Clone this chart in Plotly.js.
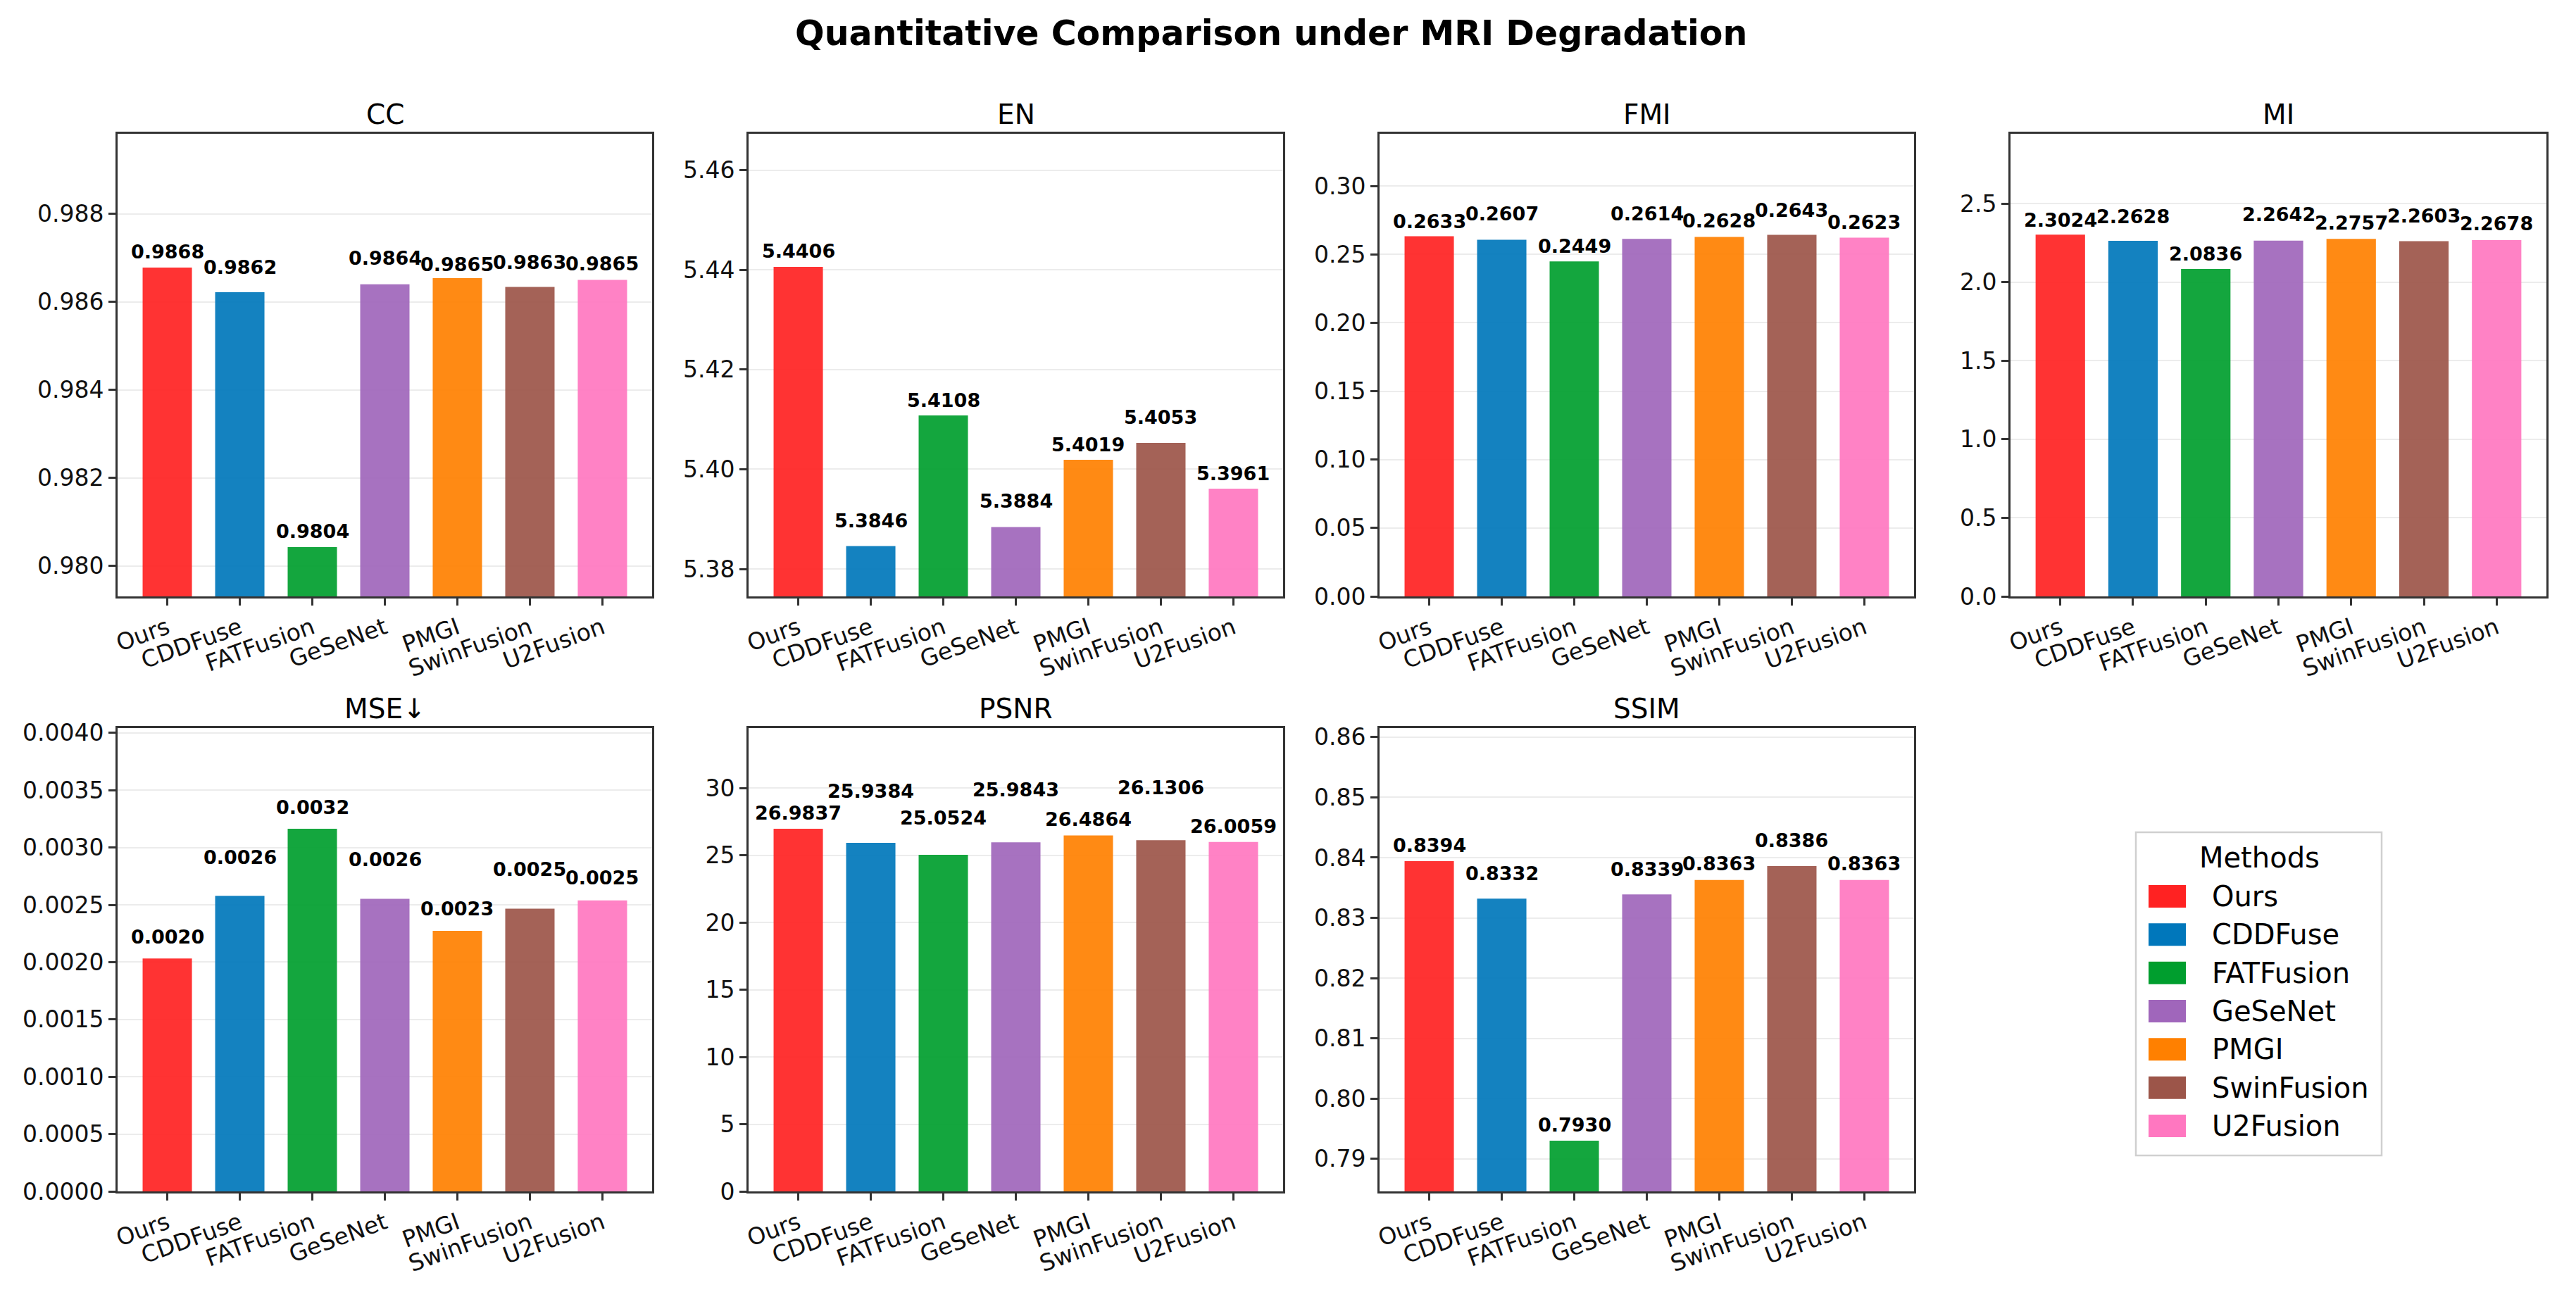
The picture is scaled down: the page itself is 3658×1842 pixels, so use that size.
<!DOCTYPE html>
<html>
<head>
<meta charset="utf-8">
<script src="https://cdn.plot.ly/plotly-3.0.1.min.js"></script>
<style>
  html, body { margin: 0; padding: 0; background: #fff; }
  #chart { width: 3658px; height: 1842px; }
</style>
</head>
<body>
<div id="chart"></div>
<script>
// methods and colours shared by every panel
const methods = ["Ours", "CDDFuse", "FATFusion", "GeSeNet", "PMGI", "SwinFusion", "U2Fusion"];
const colors = ["#FF2222", "#0077BB", "#009E2E", "#A066BB", "#FF8000", "#9C5549", "#FF77C0"];

// metric values
const ccValues   = [0.98678, 0.98622, 0.98043, 0.98640, 0.98654, 0.98634, 0.98650];
const enValues   = [5.4406, 5.3846, 5.4108, 5.3884, 5.4019, 5.4053, 5.3961];
const fmiValues  = [0.2633, 0.2607, 0.2449, 0.2614, 0.2628, 0.2643, 0.2623];
const miValues   = [2.3024, 2.2628, 2.0836, 2.2642, 2.2757, 2.2603, 2.2678];
const mseValues  = [0.002032, 0.002578, 0.003163, 0.002552, 0.002273, 0.002466, 0.002538];
const psnrValues = [26.9837, 25.9384, 25.0524, 25.9843, 26.4864, 26.1306, 26.0059];
const ssimValues = [0.8394, 0.8332, 0.7930, 0.8339, 0.8363, 0.8386, 0.8363];

const FONT = "DejaVu Sans, Liberation Sans, sans-serif";
const W = 3658, H = 1842;

// panel boxes in pixels: columns (left, right), rows (top, bottom)
const cols = [[167, 926], [1063, 1822], [1959, 2718], [2855, 3616]];
const row1 = [190, 847];
const row2 = [1034, 1692];

const panels = [
  { title: "CC",   values: ccValues,   box: [cols[0], row1], range: [0.97931, 0.98982], tick0: 0.980, dtick: 0.002,  fmt: ".3f", lift: [23, 36, 22, 37, 20, 35, 23] },
  { title: "EN",   values: enValues,   box: [cols[1], row1], range: [5.3745, 5.4673],   tick0: 5.38,  dtick: 0.02,   fmt: ".2f", lift: [23, 36, 22, 37, 22, 36, 22] },
  { title: "FMI",  values: fmiValues,  box: [cols[2], row1], range: [0, 0.3382],        tick0: 0,     dtick: 0.05,   fmt: ".2f", lift: [21, 37, 22, 36, 23, 35, 22] },
  { title: "MI",   values: miValues,   box: [cols[3], row1], range: [0, 2.944],         tick0: 0,     dtick: 0.5,    fmt: ".1f", lift: [21, 35, 22, 37, 23, 36, 23] },
  { title: "MSE↓", values: mseValues,  box: [cols[0], row2], range: [0, 0.004042],      tick0: 0,     dtick: 0.0005, fmt: ".4f", lift: [31, 55, 31, 56, 31, 56, 32] },
  { title: "PSNR", values: psnrValues, box: [cols[1], row2], range: [0, 34.48],         tick0: 0,     dtick: 5,      fmt: "d",   lift: [23, 74, 52, 75, 23, 75, 22] },
  { title: "SSIM", values: ssimValues, box: [cols[2], row2], range: [0.7846, 0.8615],   tick0: 0.79,  dtick: 0.01,   fmt: ".2f", lift: [23, 36, 23, 36, 23, 36, 23] }
];

const traces = [];
const annotations = [];
const shapes = [];
const layout = {
  width: W,
  height: H,
  autosize: false,
  margin: { l: 0, r: 0, t: 0, b: 0 },
  paper_bgcolor: "#fff",
  plot_bgcolor: "#fff",
  showlegend: false,
  font: { family: FONT, color: "#000" },
  title: {
    text: "Quantitative Comparison under MRI Degradation",
    font: { family: FONT, size: 49, weight: "bold", color: "#000" },
    x: 0.4935, xanchor: "center",
    y: 1 - 47 / H, yanchor: "middle"
  }
};

panels.forEach((p, k) => {
  const n = k + 1;
  const xa = "x" + n, ya = "y" + n;
  const [xs, ys] = p.box;
  const xDom = [xs[0] / W, xs[1] / W];
  const yDom = [1 - ys[1] / H, 1 - ys[0] / H];

  traces.push({
    type: "bar",
    x: methods,
    y: p.values,
    xaxis: xa,
    yaxis: ya,
    width: 0.68,
    marker: { color: colors, opacity: 0.92, line: { width: 0 } },
    hoverinfo: "x+y"
  });

  layout["xaxis" + n] = {
    domain: xDom,
    anchor: ya,
    type: "category",
    range: [-0.685, 6.685],
    showline: true, mirror: true, linecolor: "#333", linewidth: 3,
    ticks: "outside", ticklen: 10, tickwidth: 2.5, tickcolor: "#333",
    tickangle: -20,
    tickfont: { family: FONT, size: 33, color: "#111" },
    showgrid: false, zeroline: false, fixedrange: true
  };
  layout["yaxis" + n] = {
    domain: yDom,
    anchor: xa,
    range: p.range,
    tick0: p.tick0, dtick: p.dtick, tickformat: p.fmt,
    showline: true, mirror: true, linecolor: "#333", linewidth: 3,
    ticks: "outside", ticklen: 10, tickwidth: 2.5, tickcolor: "#333",
    tickfont: { family: FONT, size: 33, color: "#111" },
    showgrid: true, gridcolor: "#ececec", gridwidth: 2,
    zeroline: false, fixedrange: true
  };

  // panel title
  annotations.push({
    xref: "paper", yref: "paper",
    x: (xDom[0] + xDom[1]) / 2, y: yDom[1] + 28 / H,
    xanchor: "center", yanchor: "middle",
    text: p.title, showarrow: false,
    font: { family: FONT, size: 39, color: "#000" }
  });

  // value labels above the bars
  p.values.forEach((v, i) => {
    annotations.push({
      xref: xa, yref: ya,
      x: methods[i], y: v,
      xanchor: "center", yanchor: "middle",
      yshift: p.lift[i],
      text: v.toFixed(4),
      showarrow: false,
      font: { family: FONT, size: 27, weight: "bold", color: "#000" }
    });
  });
});

// legend box ("Methods")
const lg = { left: 3033, right: 3382, top: 1182, bottom: 1641 };
shapes.push({
  type: "rect", xref: "paper", yref: "paper",
  x0: lg.left / W, x1: lg.right / W,
  y0: 1 - lg.bottom / H, y1: 1 - lg.top / H,
  line: { color: "#d0d0d0", width: 2.5 },
  fillcolor: "rgba(255,255,255,0.9)"
});
annotations.push({
  xref: "paper", yref: "paper",
  x: 3208 / W, y: 1 - 1218 / H,
  xanchor: "center", yanchor: "middle",
  text: "Methods", showarrow: false,
  font: { family: FONT, size: 40, color: "#000" }
});
methods.forEach((m, i) => {
  const cy = 1273 + i * 54.33;
  shapes.push({
    type: "rect", xref: "paper", yref: "paper",
    x0: 3051 / W, x1: 3104 / W,
    y0: 1 - (cy + 16) / H, y1: 1 - (cy - 16) / H,
    line: { width: 0 },
    fillcolor: colors[i]
  });
  annotations.push({
    xref: "paper", yref: "paper",
    x: 3139 / W, y: 1 - cy / H,
    xanchor: "left", yanchor: "middle",
    text: m, showarrow: false,
    font: { family: FONT, size: 40, color: "#000" }
  });
});

layout.annotations = annotations;
layout.shapes = shapes;

Plotly.newPlot("chart", traces, layout, { displayModeBar: false, responsive: false });
</script>
</body>
</html>
